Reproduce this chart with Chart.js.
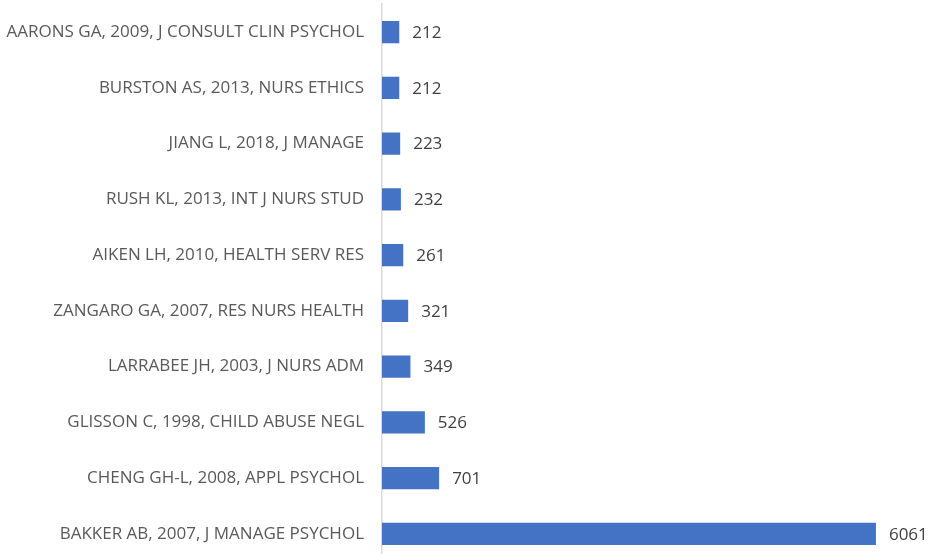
<!DOCTYPE html>
<html>
<head>
<meta charset="utf-8">
<script src="https://cdn.jsdelivr.net/npm/chart.js@4/dist/chart.umd.min.js"></script>
<style>
  html, body { margin: 0; padding: 0; background: #fff; overflow: hidden; width: 938px; height: 554px; }
  #wrap { width: 938px; height: 598px; position: absolute; left: 0; top: -16px; }
</style>
</head>
<body>
<div id="wrap"><canvas id="citeChart"></canvas></div>
<script>
const labels = [
  "AARONS GA, 2009, J CONSULT CLIN PSYCHOL",
  "BURSTON AS, 2013, NURS ETHICS",
  "JIANG L, 2018, J MANAGE",
  "RUSH KL, 2013, INT J NURS STUD",
  "AIKEN LH, 2010, HEALTH SERV RES",
  "ZANGARO GA, 2007, RES NURS HEALTH",
  "LARRABEE JH, 2003, J NURS ADM",
  "GLISSON C, 1998, CHILD ABUSE NEGL",
  "CHENG GH-L, 2008, APPL PSYCHOL",
  "BAKKER AB, 2007, J MANAGE PSYCHOL"
];
const citations = [212, 212, 223, 232, 261, 321, 349, 526, 701, 6061];

const valueLabels = {
  id: "valueLabels",
  afterDatasetsDraw(chart) {
    const ctx = chart.ctx;
    const meta = chart.getDatasetMeta(0);
    ctx.save();
    ctx.font = "17px 'Open Sans'";
    ctx.fillStyle = "#404040";
    ctx.textBaseline = "middle";
    ctx.textAlign = "left";
    meta.data.forEach(function (bar, i) {
      ctx.fillText(String(citations[i]), bar.x + 13, bar.y + 1);
    });
    ctx.restore();
  }
};

const ctx = document.getElementById("citeChart").getContext("2d");
const citeChart = new Chart(ctx, {
  type: "bar",
  data: {
    labels: labels,
    datasets: [
      {
        label: "Citations",
        data: citations,
        backgroundColor: "#4472C4",
        borderWidth: 0,
        barPercentage: 0.4,
        categoryPercentage: 1.0,
      },
    ],
  },
  options: {
    indexAxis: "y",
    responsive: true,
    maintainAspectRatio: false,
    layout: { padding: { top: 0, right: 10, bottom: 0, left: 0 } },
    scales: {
      x: {
        display: false,
        min: 0,
        max: 6700,
      },
      y: {
        grid: { display: false },
        border: { display: true, color: "#d9d9d9", width: 1.5 },
        afterFit: function (scale) {
          scale.width = 382;
        },
        ticks: {
          padding: 10,
          color: "#595959",
          font: { family: "'Open Sans'", size: 17 },
        },
      },
    },
    plugins: {
      legend: { display: false },
      tooltip: { enabled: false },
    },
    animation: { duration: 0 },
  },
  plugins: [valueLabels],
});
</script>
</body>
</html>
